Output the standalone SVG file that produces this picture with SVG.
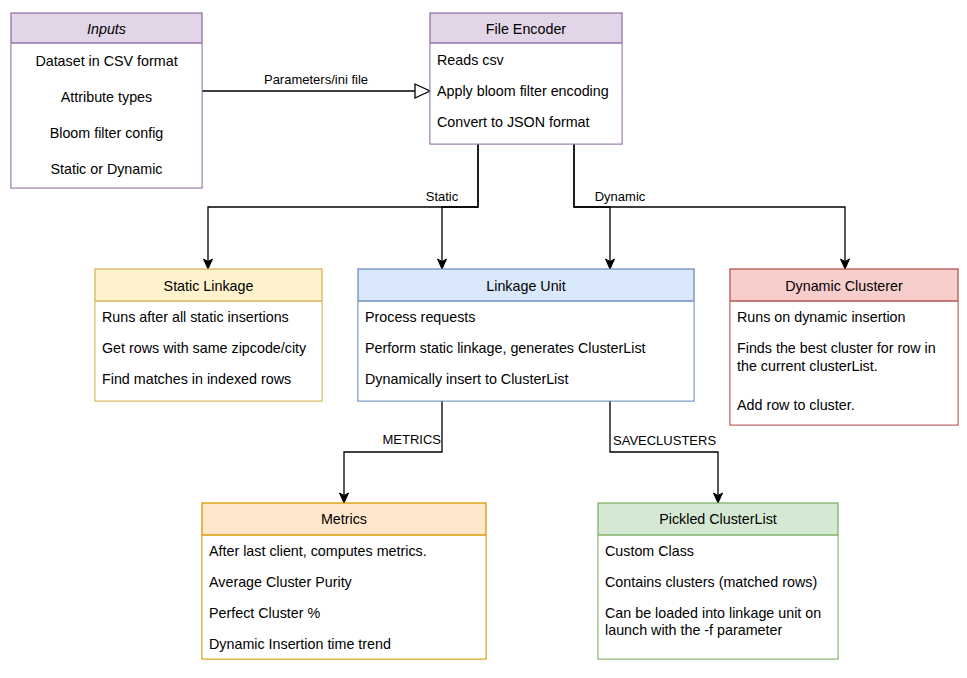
<svg xmlns="http://www.w3.org/2000/svg" width="967" height="678" viewBox="0 0 967 678">
  <style>
    text { font-family: "Liberation Sans", Arial, sans-serif; fill: #000; }
    .t { font-size: 14.3px; }
    .h { font-size: 14.3px; text-anchor: middle; }
    .c { font-size: 14.3px; text-anchor: middle; }
    .lbl { font-size: 13px; }
    .edge { fill: none; stroke: #000; stroke-width: 1.3; }
    .purple { fill: #e1d5e7; stroke: #9673a6; stroke-width: 1.3; }
    .yellow { fill: #fff2cc; stroke: #d6b656; stroke-width: 1.3; }
    .blue { fill: #dae8fc; stroke: #6c8ebf; stroke-width: 1.3; }
    .red { fill: #f8cecc; stroke: #b85450; stroke-width: 1.3; }
    .orange { fill: #ffe6cc; stroke: #d79b00; stroke-width: 1.3; }
    .green { fill: #d5e8d4; stroke: #82b366; stroke-width: 1.3; }
    .body { fill: #ffffff; }
  </style>
  <defs>
    <marker id="arrow" markerUnits="userSpaceOnUse" markerWidth="12" markerHeight="12" viewBox="0 0 12 12" refX="11" refY="6" orient="auto">
      <path d="M1,1.5 L11,6 L1,10.5 L3.5,6 Z" fill="#000" stroke="#000" stroke-width="1"/>
    </marker>
    <marker id="open" markerUnits="userSpaceOnUse" markerWidth="18" markerHeight="18" viewBox="0 0 18 18" refX="16" refY="9" orient="auto">
      <path d="M1,2 L16,9 L1,16 Z" fill="#fff" stroke="#000" stroke-width="1.3"/>
    </marker>
  </defs>
  <rect width="967" height="678" fill="#ffffff"/>

  <g id="connectors">
    <path class="edge" d="M202,91 H430" marker-end="url(#open)"/>
    <text class="lbl" x="316" y="84" text-anchor="middle">Parameters/ini file</text>
    <path class="edge" d="M478,144 V207 H208 V269" marker-end="url(#arrow)"/>
    <path class="edge" d="M478,144 V207 H442 V269" marker-end="url(#arrow)"/>
    <text class="lbl" x="442" y="201" text-anchor="middle">Static</text>
    <path class="edge" d="M574,144 V207 H610 V269" marker-end="url(#arrow)"/>
    <path class="edge" d="M574,144 V207 H845 V269" marker-end="url(#arrow)"/>
    <text class="lbl" x="620" y="201" text-anchor="middle">Dynamic</text>
    <path class="edge" d="M442,401 V452 H344 V503" marker-end="url(#arrow)"/>
    <text class="lbl" x="441" y="444" text-anchor="end">METRICS</text>
    <path class="edge" d="M610,401 V452 H718 V503" marker-end="url(#arrow)"/>
    <text class="lbl" x="613" y="445">SAVECLUSTERS</text>
  </g>

  <g id="inputs">
    <rect class="purple" x="11" y="13" width="191" height="175"/>
    <rect class="body" x="11.6" y="43" width="189.8" height="144.4"/>
    <line x1="11" y1="43" x2="202" y2="43" stroke="#9673a6" stroke-width="1.3"/>
    <text class="h" x="106.5" y="34" font-style="italic">Inputs</text>
    <text class="c" x="106.5" y="66">Dataset in CSV format</text>
    <text class="c" x="106.5" y="102">Attribute types</text>
    <text class="c" x="106.5" y="138">Bloom filter config</text>
    <text class="c" x="106.5" y="174">Static or Dynamic</text>
  </g>

  <g id="file-encoder">
    <rect class="purple" x="430" y="13" width="192" height="131"/>
    <rect class="body" x="430.6" y="43" width="190.8" height="100.4"/>
    <line x1="430" y1="43" x2="622" y2="43" stroke="#9673a6" stroke-width="1.3"/>
    <text class="h" x="526" y="34">File Encoder</text>
    <text class="t" x="437" y="65">Reads csv</text>
    <text class="t" x="437" y="96">Apply bloom filter encoding</text>
    <text class="t" x="437" y="127">Convert to JSON format</text>
  </g>

  <g id="static-linkage">
    <rect class="yellow" x="95" y="269" width="227" height="132"/>
    <rect class="body" x="95.6" y="301" width="225.8" height="99.4"/>
    <line x1="95" y1="301" x2="322" y2="301" stroke="#d6b656" stroke-width="1.3"/>
    <text class="h" x="208.5" y="291">Static Linkage</text>
    <text class="t" x="102" y="322">Runs after all static insertions</text>
    <text class="t" x="102" y="353">Get rows with same zipcode/city</text>
    <text class="t" x="102" y="384">Find matches in indexed rows</text>
  </g>

  <g id="linkage-unit">
    <rect class="blue" x="358" y="269" width="336" height="132"/>
    <rect class="body" x="358.6" y="301" width="334.8" height="99.4"/>
    <line x1="358" y1="301" x2="694" y2="301" stroke="#6c8ebf" stroke-width="1.3"/>
    <text class="h" x="526" y="291">Linkage Unit</text>
    <text class="t" x="365" y="322">Process requests</text>
    <text class="t" x="365" y="353">Perform static linkage, generates ClusterList</text>
    <text class="t" x="365" y="384">Dynamically insert to ClusterList</text>
  </g>

  <g id="dynamic-clusterer">
    <rect class="red" x="730" y="269" width="228" height="156"/>
    <rect class="body" x="730.6" y="301" width="226.8" height="123.4"/>
    <line x1="730" y1="301" x2="958" y2="301" stroke="#b85450" stroke-width="1.3"/>
    <text class="h" x="844" y="291">Dynamic Clusterer</text>
    <text class="t" x="737" y="322">Runs on dynamic insertion</text>
    <text class="t" x="737" y="353">Finds the best cluster for row in</text>
    <text class="t" x="737" y="371">the current clusterList.</text>
    <text class="t" x="737" y="410">Add row to cluster.</text>
  </g>

  <g id="metrics">
    <rect class="orange" x="202" y="503" width="284" height="156"/>
    <rect class="body" x="202.6" y="535" width="282.8" height="123.4"/>
    <line x1="202" y1="535" x2="486" y2="535" stroke="#d79b00" stroke-width="1.3"/>
    <text class="h" x="344" y="524">Metrics</text>
    <text class="t" x="209" y="556">After last client, computes metrics.</text>
    <text class="t" x="209" y="587">Average Cluster Purity</text>
    <text class="t" x="209" y="618">Perfect Cluster %</text>
    <text class="t" x="209" y="649">Dynamic Insertion time trend</text>
  </g>

  <g id="pickled-clusterlist">
    <rect class="green" x="598" y="503" width="240" height="156"/>
    <rect class="body" x="598.6" y="535" width="238.8" height="123.4"/>
    <line x1="598" y1="535" x2="838" y2="535" stroke="#82b366" stroke-width="1.3"/>
    <text class="h" x="718" y="524">Pickled ClusterList</text>
    <text class="t" x="605" y="556">Custom Class</text>
    <text class="t" x="605" y="587">Contains clusters (matched rows)</text>
    <text class="t" x="605" y="618">Can be loaded into linkage unit on</text>
    <text class="t" x="605" y="635">launch with the -f parameter</text>
  </g>
</svg>
